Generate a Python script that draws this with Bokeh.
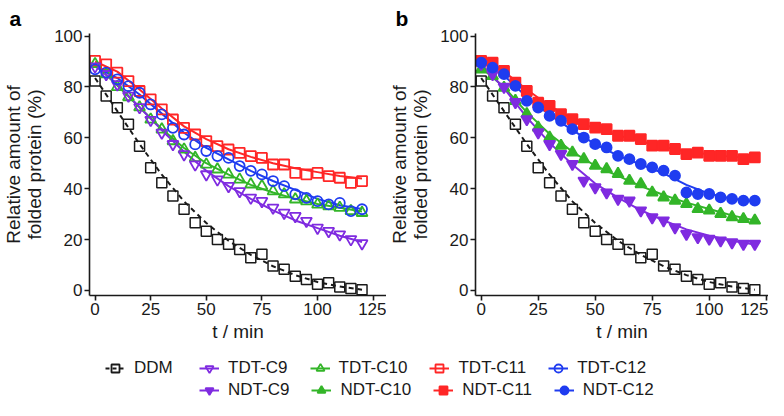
from bokeh.plotting import figure
from bokeh.layouts import column, row
from bokeh.models import Legend, LegendItem, Title, Range1d
from bokeh.embed import file_html
from bokeh.resources import INLINE

# ---------------- data ----------------
t = [0, 5, 10, 15, 20, 25, 30, 35, 40, 45, 50, 55, 60, 65, 70, 75, 80, 85, 90, 95, 100, 105, 110, 115, 120]
t_fit = [0, 10, 20, 30, 40, 50, 60, 70, 80, 90, 100, 110, 120]

ddm = [82.3, 76.4, 71.8, 65.3, 56.7, 48.2, 42.3, 37.1, 31.9, 26.6, 23.3, 20.0, 18.1, 16.1, 12.8, 14.2, 9.6, 8.3, 5.6, 4.3, 2.4, 3.0, 1.3, 0.8, 0.3]
ddm_fit = [83.5, 70.5, 57.5, 45.5, 35, 26.5, 19.5, 14, 9.5, 6, 3.3, 1.5, 0.3]

tdt_c9 = [88, 85, 81, 76.5, 72, 67, 62, 57.5, 53.5, 49.5, 45.6, 43.6, 41.0, 39.0, 36.4, 35.1, 32.5, 30.5, 29.2, 27.3, 24.6, 23.3, 22.0, 20.1, 18.5]
tdt_c10 = [89, 85, 80, 76, 72, 67.2, 63.3, 58.7, 55.4, 52.1, 49.5, 47.6, 45.6, 43.6, 41.7, 41.0, 39.0, 37.8, 35.8, 35.1, 33.8, 33.1, 32.5, 31.2, 30.5]
tdt_c11 = [90.2, 88.9, 85.6, 82.3, 78.4, 75.1, 71.2, 67.2, 63.9, 61.3, 58.7, 56.7, 55.4, 54.1, 52.8, 52.1, 49.5, 49.5, 46.2, 45.6, 46.2, 44.9, 44.3, 42.3, 43.0]
tdt_c12 = [86.9, 85.6, 83.0, 80.3, 77.7, 73.1, 69.2, 63.9, 61.3, 57.4, 54.8, 52.8, 52.1, 48.9, 47.0, 45.6, 43.0, 41.0, 37.8, 36.4, 35.1, 33.8, 34.4, 31.2, 31.9]
tdt_c9_fit = [88.5, 81, 72, 63, 54.5, 47, 41, 36, 31.5, 27.5, 24.5, 21.5, 19]
tdt_c10_fit = [89, 80.5, 72, 63.5, 56, 50, 45.5, 41.5, 38.5, 36, 34, 32.5, 31]
tdt_c11_fit = [90, 86, 79, 71.5, 64.5, 59.5, 55.5, 52.5, 50, 48, 46.5, 45, 44]
tdt_c12_fit = [88, 83.5, 77, 69.5, 62, 56, 51.5, 47, 43, 39.5, 36, 33.5, 32]

ndt_c9 = [89, 85, 80, 74, 67.3, 62.1, 57.5, 53.6, 49.7, 43.1, 40.5, 38.5, 36.0, 35.3, 31.4, 28.7, 27.5, 24.8, 22.2, 20.9, 20.3, 19.6, 18.9, 18.3, 18.3]
ndt_c10 = [86.9, 84.3, 79.7, 74.5, 69.3, 64.0, 60.1, 56.9, 54.2, 51.6, 49.0, 47.7, 45.8, 43.1, 41.8, 38.5, 36.6, 35.3, 34.0, 32.0, 31.4, 30.1, 28.8, 28.1, 27.5]
ndt_c11 = [90.2, 89.5, 86.3, 81.7, 78.4, 73.8, 72.5, 69.3, 67.3, 65.4, 64.0, 63.4, 60.8, 60.8, 59.5, 56.9, 56.9, 55.6, 53.6, 54.2, 52.9, 52.9, 52.9, 51.6, 52.3]
ndt_c12 = [89.5, 87.6, 85.0, 80.4, 74.5, 71.9, 68.6, 66.7, 63.4, 60.1, 57.5, 56.2, 52.9, 51.6, 49.7, 48.4, 47.1, 45.1, 38.5, 37.9, 37.9, 36.6, 36.0, 35.3, 35.3]
ndt_c9_fit = [89, 79.5, 68, 58, 49.5, 42, 36.5, 31.5, 27.5, 24, 21.5, 19.5, 18]
ndt_c10_fit = [87.5, 80, 70, 61.5, 54.5, 49, 45, 41, 37.5, 34.5, 32, 29.5, 27.5]
ndt_c11_fit = [90.5, 86, 79, 72.5, 67.5, 63.5, 61, 58.5, 56.5, 54.5, 53.5, 52.5, 52]
ndt_c12_fit = [90, 84.5, 76, 69, 63, 57.5, 53, 49.5, 46, 41.5, 38, 36, 35]

x_ticks = [0, 25, 50, 75, 100, 125]
y_ticks = [0, 20, 40, 60, 80, 100]

# ---------------- style ----------------
FONT = "Liberation Sans"
BLACK = "#1a1a1a"
PURPLE = "#7f2be0"
GREEN = "#33b528"
RED = "#ff2626"
BLUE = "#1f3cf0"

C9 = ("inverted_triangle", PURPLE, 11)
C10 = ("triangle", GREEN, 11)
C11 = ("square", RED, 10)
C12 = ("circle", BLUE, 10)
NAN = float("nan")


def make_panel(width, left, right, x_end, letter, letter_offset, series):
    p = figure(width=width, height=345, title=None,
               x_range=Range1d(-2.5, x_end), y_range=Range1d(-2, 101),
               output_backend="svg", toolbar_location=None,
               min_border_left=left, min_border_right=right,
               min_border_top=24, min_border_bottom=50)
    p.outline_line_color = None
    p.grid.visible = False

    p.xaxis.ticker = x_ticks
    p.yaxis.ticker = y_ticks
    for ax in (p.xaxis[0], p.yaxis[0]):
        ax.axis_line_color = BLACK
        ax.axis_line_width = 1.6
        ax.major_tick_line_color = BLACK
        ax.major_tick_line_width = 1.6
        ax.major_tick_out = 5
        ax.major_tick_in = 0
        ax.minor_tick_line_color = None
        ax.major_label_text_font = FONT
        ax.major_label_text_font_size = "17px"
        ax.major_label_text_color = BLACK
        ax.axis_label_text_font = FONT
        ax.axis_label_text_font_size = "19px"
        ax.axis_label_text_font_style = "normal"
        ax.axis_label_text_color = BLACK
    p.xaxis.major_label_standoff = 2
    p.yaxis.major_label_standoff = 2
    p.xaxis.axis_label = "t / min"
    p.xaxis.axis_label_standoff = 3
    p.yaxis.axis_label = "Relative amount of\nfolded protein (%)"
    p.yaxis.axis_label_standoff = 6
    p.yaxis.axis_label_text_line_height = 1.0

    # fit lines
    p.line(t_fit, ddm_fit, line_color=BLACK, line_width=2, line_dash="5 4")
    for (vals, fit, (mk, col, sz), filled) in series:
        p.line(t_fit, fit, line_color=col, line_width=2)
    # markers
    p.scatter(t, ddm, marker="square", size=10, line_color=BLACK, line_width=1.5,
              fill_color=None)
    for (vals, fit, (mk, col, sz), filled) in series:
        p.scatter(t, vals, marker=mk, size=sz, line_color=col, line_width=1.8,
                  fill_color=col if filled else None)

    p.add_layout(Title(text=letter, align="left", offset=letter_offset, standoff=8,
                       text_font=FONT, text_font_size="21px", text_font_style="bold",
                       text_color="black"), "above")
    return p


pa = make_panel(386, 78, 0, 131, "a", -80, [
    (tdt_c11, tdt_c11_fit, C11, False),
    (tdt_c10, tdt_c10_fit, C10, False),
    (tdt_c9, tdt_c9_fit, C9, False),
    (tdt_c12, tdt_c12_fit, C12, False),
])
pb = make_panel(382, 88, 0, 126, "b", -80, [
    (ndt_c11, ndt_c11_fit, C11, True),
    (ndt_c10, ndt_c10_fit, C10, True),
    (ndt_c9, ndt_c9_fit, C9, True),
    (ndt_c12, ndt_c12_fit, C12, True),
])

# ---------------- legend ----------------
pl = figure(width=768, height=55, title=None, x_axis_type=None, y_axis_type=None,
            output_backend="svg", toolbar_location=None, min_border=0)
pl.outline_line_color = None
pl.grid.visible = False


def legend_item(label, mk, col, sz, filled, dash="solid"):
    lr = pl.line(x=[NAN], y=[NAN], line_color=col, line_width=2, line_dash=dash)
    sr = pl.scatter(x=[NAN], y=[NAN], marker=mk, size=sz, line_color=col, line_width=1.8,
                    fill_color=col if filled else None)
    return LegendItem(label=label, renderers=[lr, sr])


def add_legend(items, loc):
    lg = Legend(items=items, location=loc, orientation="horizontal", spacing=22,
                glyph_width=20, glyph_height=20, label_standoff=9, padding=0, margin=0,
                border_line_color=None, background_fill_alpha=0,
                label_text_font=FONT, label_text_font_size="17px",
                label_text_color=BLACK, label_height=20)
    pl.add_layout(lg)


add_legend([legend_item("DDM", "square", BLACK, 10, False, "4 3")], (105, 22))
add_legend([
    legend_item("TDT-C9", *C9, False),
    legend_item("TDT-C10", *C10, False),
    legend_item("TDT-C11", *C11, False),
    legend_item("TDT-C12", *C12, False),
], (199, 22))
add_legend([
    legend_item("NDT-C9", *C9, True),
    legend_item("NDT-C10", *C10, True),
    legend_item("NDT-C11", *C11, True),
    legend_item("NDT-C12", *C12, True),
], (199, 0))

layout = column(row(pa, pb), pl, spacing=0)
open("out.html", "w").write(file_html(layout, INLINE))
